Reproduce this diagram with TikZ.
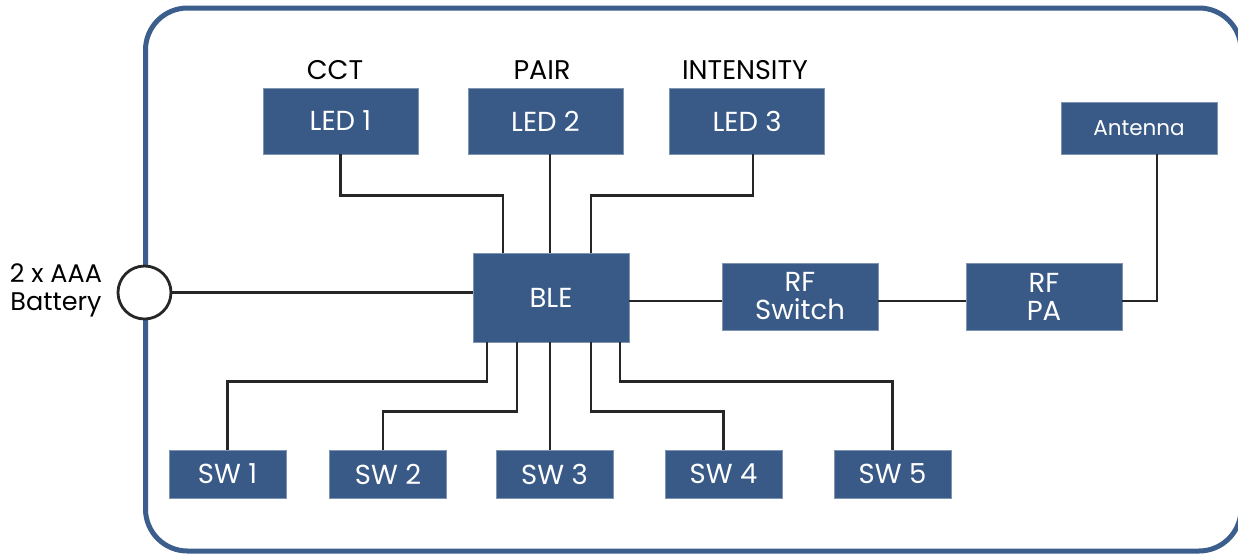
\documentclass[tikz,border=0pt]{standalone}
\usepackage{fontspec}
\setmainfont{Poppins}
\usetikzlibrary{positioning}
\definecolor{boxblue}{RGB}{57,90,134}
\definecolor{frameblue}{RGB}{59,94,140}
\tikzset{
  blk/.style   ={rectangle, fill=boxblue, draw=boxblue!65!white, line width=0.8pt,
                 text=white, align=center, inner sep=0pt,
                 font=\fontsize{27.5}{28}\selectfont},
  ledblk/.style={blk, minimum width=155pt, minimum height=66pt},
  bleblk/.style={blk, minimum width=156pt, minimum height=89pt},
  rfblk/.style ={blk, minimum width=156pt, minimum height=67pt},
  antblk/.style={blk, minimum width=156pt, minimum height=52pt,
                 font=\fontsize{21.5}{25}\selectfont},
  swblk/.style ={blk, minimum width=117pt, minimum height=48pt},
  toplbl/.style={font=\fontsize{27}{28}\selectfont, inner sep=0pt},
  batlbl/.style={font=\fontsize{25.5}{28}\selectfont, align=center, inner sep=0pt},
  batcell/.style={circle, draw=black!85, line width=2.8pt, fill=white,
                  minimum size=53pt, inner sep=0pt},
  wire/.style  ={line width=2.8pt, black!85},
  frame/.style ={line width=5pt, frameblue, rounded corners=42pt},
}

\begin{document}
\begin{tikzpicture}[x=1pt, y=-1pt]
  \useasboundingbox (0,0) rectangle (1238,555);
  \draw[frame] (145.5,8) rectangle (1241,551);

  % LEDs and their labels
  \node[ledblk] (led1) at (340.5,121) {LED 1};
  \node[ledblk] (led2) at (545.5,121) {LED 2};
  \node[ledblk] (led3) at (747,121)   {LED 3};
  \node[toplbl] (cct)  at (335,70)  {CCT};
  \node[toplbl] (pair) at (542,70)  {PAIR};
  \node[toplbl] (ints) at (745,70)  {INTENSITY};

  % radio chain
  \node[bleblk] (ble)  at (551,297.5)  {BLE};
  \node[rfblk]  (rfsw) at (800,296.5)  {RF\\Switch};
  \node[rfblk]  (rfpa) at (1044,296.5) {RF\\PA};
  \node[antblk] (ant)  at (1139,128)   {Antenna};

  % battery
  \node[batcell] (bat) at (144.5,292.5) {};
  \node[batlbl]  (batl) at (56,290) {2 x AAA\\Battery};

  % switches
  \foreach \i/\x in {1/227.5,2/388,3/554.5,4/723.5,5/892.5} {
    \node[swblk] (sw\i) at (\x,474) {SW \i};
  }

  % wires
  \draw[wire] (bat.east) -- (bat.east -| ble.west);
  \draw[wire] (led1.south) -- ++(0,41) -| ([xshift=-48pt]ble.north);
  \draw[wire] ([xshift=-1pt]ble.north) -- ([xshift=-1pt]ble.north |- led2.south);
  \draw[wire] ([xshift=6pt]led3.south) -- ++(0,41) -| ([xshift=40pt]ble.north);
  \draw[wire] ([yshift=-4.5pt]rfsw.west) -- ([yshift=-4.5pt]rfsw.west -| ble.east);
  \draw[wire] ([yshift=-4.5pt]rfsw.east) -- ([yshift=-4.5pt]rfpa.west);
  \draw[wire] ([yshift=-4.5pt]rfpa.east) -| ([xshift=18pt]ant.south);

  \draw[wire] ([xshift=-64pt]ble.south) -- ++(0,39) -| (sw1.north);
  \draw[wire] ([xshift=-34pt]ble.south) -- ++(0,69) -| ([xshift=-5pt]sw2.north);
  \draw[wire] ([xshift=-1pt]ble.south) -- ([xshift=-1pt]ble.south |- sw3.north);
  \draw[wire] ([xshift=40pt]ble.south) -- ++(0,69) -| (sw4.north);
  \draw[wire] ([xshift=69pt]ble.south) -- ++(0,39) -| (sw5.north);
\end{tikzpicture}
\end{document}
